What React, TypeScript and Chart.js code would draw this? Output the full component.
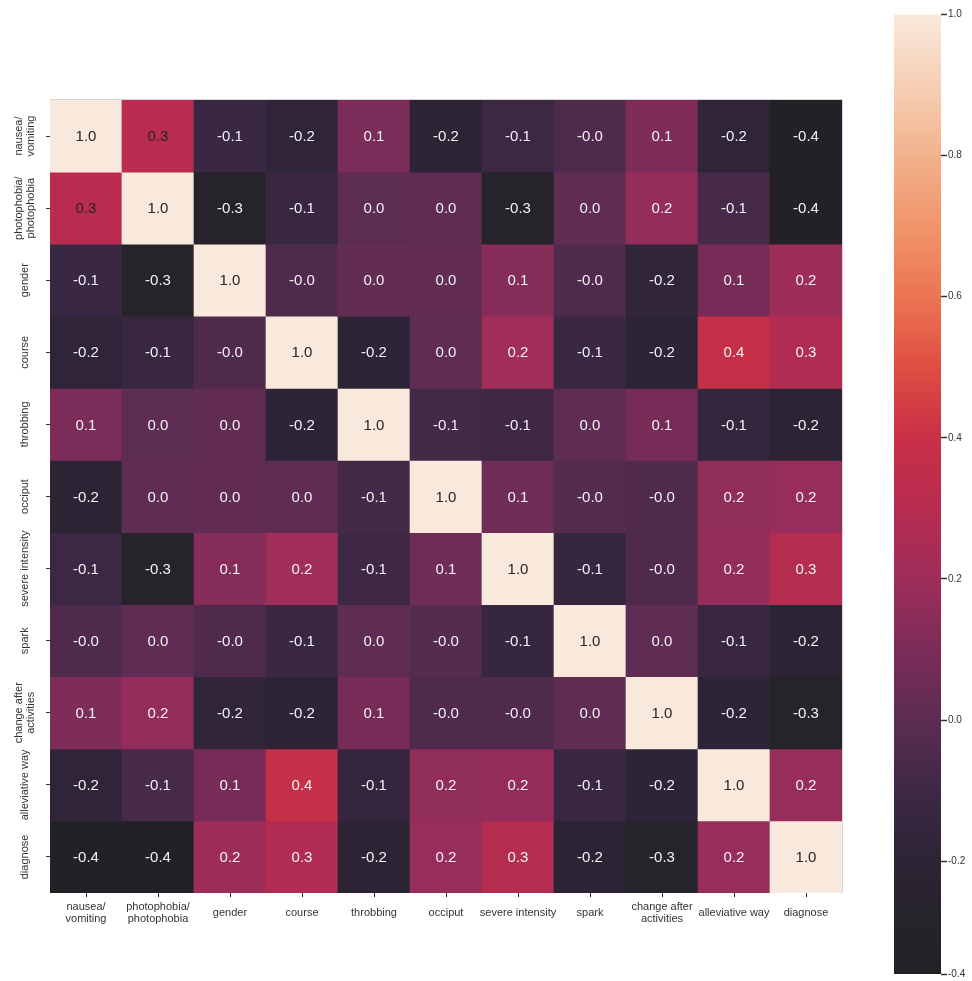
import React, { useEffect, useRef } from 'react';
import { Chart, registerables } from 'chart.js';
Chart.register(...registerables);

const categories: (string | string[])[] = [
  ['nausea/', 'vomiting'],
  ['photophobia/', 'photophobia'],
  'gender',
  'course',
  'throbbing',
  'occiput',
  'severe intensity',
  'spark',
  ['change after', 'activities'],
  'alleviative way',
  'diagnose',
];

const nauseaRow = [1.0, 0.31, -0.12, -0.18, 0.1, -0.2, -0.11, -0.04, 0.11, -0.18, -0.36];
const photophobiaRow = [0.31, 1.0, -0.29, -0.13, 0.0, 0.01, -0.28, 0.01, 0.17, -0.07, -0.36];
const genderRow = [-0.12, -0.29, 1.0, -0.04, 0.02, 0.02, 0.13, -0.04, -0.17, 0.08, 0.2];
const courseRow = [-0.18, -0.13, -0.04, 1.0, -0.19, 0.01, 0.21, -0.12, -0.19, 0.38, 0.27];
const throbbingRow = [0.1, 0.0, 0.02, -0.19, 1.0, -0.08, -0.1, 0.01, 0.08, -0.15, -0.2];
const occiputRow = [-0.2, 0.01, 0.02, 0.01, -0.08, 1.0, 0.06, -0.02, -0.04, 0.16, 0.18];
const severeRow = [-0.11, -0.28, 0.13, 0.21, -0.1, 0.06, 1.0, -0.14, -0.04, 0.17, 0.29];
const sparkRow = [-0.04, 0.01, -0.04, -0.12, 0.01, -0.02, -0.14, 1.0, 0.01, -0.13, -0.2];
const changeRow = [0.11, 0.17, -0.17, -0.19, 0.08, -0.04, -0.04, 0.01, 1.0, -0.19, -0.29];
const alleviativeRow = [-0.18, -0.07, 0.08, 0.38, -0.15, 0.16, 0.17, -0.13, -0.19, 1.0, 0.18];
const diagnoseRow = [-0.36, -0.36, 0.2, 0.27, -0.2, 0.18, 0.29, -0.2, -0.29, 0.18, 1.0];

const matrix = [
  nauseaRow, photophobiaRow, genderRow, courseRow, throbbingRow, occiputRow,
  severeRow, sparkRow, changeRow, alleviativeRow, diagnoseRow,
];

const vmin = -0.36;
const vmax = 1.0;
const colorbarTicks = [-0.36, -0.2, 0.0, 0.2, 0.4, 0.6, 0.8, 1.0];

// colour ramp (value -> rgb) sampled to resemble the reference's "rocket" map
const rampStops: [number, number[]][] = [
  [-0.36, [34, 34, 38]],
  [-0.3, [37, 35, 41]],
  [-0.2, [44, 36, 53]],
  [-0.1, [62, 40, 70]],
  [0.0, [92, 44, 82]],
  [0.1, [124, 44, 88]],
  [0.2, [158, 45, 90]],
  [0.3, [184, 44, 80]],
  [0.4, [200, 48, 70]],
  [0.5, [222, 78, 66]],
  [0.6, [236, 117, 83]],
  [0.7, [240, 148, 106]],
  [0.8, [242, 178, 140]],
  [0.9, [246, 207, 180]],
  [1.0, [249, 233, 220]],
];

function colorFor(v: number): string {
  const x = Math.max(vmin, Math.min(vmax, v));
  for (let i = 0; i < rampStops.length - 1; i++) {
    const [a, ca] = rampStops[i];
    const [b, cb] = rampStops[i + 1];
    if (x >= a && x <= b) {
      const t = (x - a) / (b - a);
      const c = ca.map((q, k) => Math.round(q + (cb[k] - q) * t));
      return `rgb(${c[0]},${c[1]},${c[2]})`;
    }
  }
  const c = rampStops[rampStops.length - 1][1];
  return `rgb(${c[0]},${c[1]},${c[2]})`;
}

function textColor(v: number): string {
  return v >= 0.9 || (v >= 0.3 && v < 0.35) ? '#262626' : '#f2f2f2';
}

const FONT = '"Liberation Sans", Arial, Helvetica, sans-serif';

const cellTextPlugin = {
  id: 'cellText',
  afterDatasetsDraw(chart: any) {
    const ctx = chart.ctx;
    ctx.save();
    ctx.font = `15px ${FONT}`;
    ctx.textAlign = 'center';
    ctx.textBaseline = 'middle';
    matrix.forEach((row, r) => {
      const meta = chart.getDatasetMeta(r);
      meta.data.forEach((el: any, c: number) => {
        const v = row[c];
        const p = el.getProps(['x', 'y', 'base'], true);
        ctx.fillStyle = textColor(v);
        ctx.fillText(v.toFixed(1), p.x, (p.y + p.base) / 2 + 1);
      });
    });
    ctx.restore();
  },
  afterDraw(chart: any) {
    const ctx = chart.ctx;
    const yScale = chart.scales.y;
    const area = chart.chartArea;
    ctx.save();
    // light frame on top and right
    ctx.strokeStyle = '#d4d4d4';
    ctx.lineWidth = 1;
    ctx.beginPath();
    ctx.moveTo(area.left, Math.round(area.top) - 0.5);
    ctx.lineTo(Math.round(area.right) + 0.5, Math.round(area.top) - 0.5);
    ctx.lineTo(Math.round(area.right) + 0.5, area.bottom);
    ctx.stroke();
    // rotated y labels
    ctx.font = `11px ${FONT}`;
    ctx.fillStyle = '#333333';
    ctx.textAlign = 'center';
    ctx.textBaseline = 'middle';
    categories.forEach((lab, i) => {
      const lines = Array.isArray(lab) ? lab : [lab];
      const y = yScale.getPixelForValue(i + 0.5);
      ctx.save();
      ctx.translate(25, y);
      ctx.rotate(-Math.PI / 2);
      lines.forEach((line, k) => {
        const off = (k - (lines.length - 1) / 2) * 12.5;
        ctx.fillText(line, 0, off);
      });
      ctx.restore();
    });
    ctx.restore();
  },
};

function Heatmap() {
  const ref = useRef<HTMLCanvasElement>(null);
  useEffect(() => {
    if (!ref.current) return;
    const datasets = matrix.map((row, r) => ({
      label: `row${r}`,
      data: categories.map(() => [r, r + 1]),
      backgroundColor: row.map(colorFor),
      borderWidth: 0,
      grouped: false,
      barPercentage: 1,
      categoryPercentage: 1,
    }));
    const chart = new Chart(ref.current, {
      type: 'bar',
      data: { labels: categories as any, datasets: datasets as any },
      options: {
        animation: false,
        responsive: false,
        devicePixelRatio: 1,
        layout: { padding: { top: 100, right: 38, bottom: 0, left: 0 } },
        plugins: { legend: { display: false }, tooltip: { enabled: false } },
        scales: {
          x: {
            type: 'category',
            offset: true,
            grid: { display: true, drawOnChartArea: false, offset: false, tickLength: 4, tickColor: '#333333', tickWidth: 1 },
            border: { display: false },
            ticks: {
              autoSkip: false,
              maxRotation: 0,
              minRotation: 0,
              crossAlign: 'center',
              padding: 10,
              color: '#333333',
              font: { family: FONT, size: 11, lineHeight: 1.1 },
            },
            afterFit: (s: any) => { s.height = 88; },
          },
          y: {
            type: 'linear',
            min: 0,
            max: 11,
            reverse: true,
            grid: { display: true, drawOnChartArea: false, tickLength: 4, tickColor: '#333333', tickWidth: 1 },
            border: { display: false },
            ticks: { display: false },
            afterBuildTicks: (s: any) => {
              s.ticks = categories.map((_, i) => ({ value: i + 0.5 }));
            },
            afterFit: (s: any) => { s.width = 50; },
          },
        },
      } as any,
      plugins: [cellTextPlugin],
    });
    return () => chart.destroy();
  }, []);
  return <canvas ref={ref} width={880} height={981} style={{ position: 'absolute', left: 0, top: 0, width: 880, height: 981 }} />;
}

function Colorbar() {
  const ref = useRef<HTMLCanvasElement>(null);
  useEffect(() => {
    if (!ref.current) return;
    const chart = new Chart(ref.current, {
      type: 'bar',
      data: {
        labels: [''],
        datasets: [{
          data: [[vmin, vmax]] as any,
          borderWidth: 0,
          barPercentage: 1,
          categoryPercentage: 1,
          backgroundColor: (ctx: any) => {
            const ch = ctx.chart;
            const area = ch.chartArea;
            if (!area) return colorFor(0.3);
            const ys = ch.scales.y;
            const g = ch.ctx.createLinearGradient(0, ys.getPixelForValue(vmin), 0, ys.getPixelForValue(vmax));
            rampStops.forEach(([v, c]) => {
              g.addColorStop((v - vmin) / (vmax - vmin), `rgb(${c[0]},${c[1]},${c[2]})`);
            });
            return g;
          },
        }],
      },
      options: {
        animation: false,
        responsive: false,
        devicePixelRatio: 1,
        layout: { padding: { top: 14.5, right: 0, bottom: 4, left: 14 } },
        plugins: { legend: { display: false }, tooltip: { enabled: false } },
        scales: {
          x: { display: false },
          y: {
            type: 'linear',
            position: 'right',
            min: vmin,
            max: vmax,
            grid: { display: true, drawOnChartArea: false, tickLength: 6, tickColor: '#333333', tickWidth: 1.5 },
            border: { display: false },
            ticks: {
              padding: 1,
              color: '#333333',
              font: { family: FONT, size: 10 },
              callback: (v: any) => Number(v).toFixed(1),
            },
            afterBuildTicks: (s: any) => {
              s.ticks = colorbarTicks.map((v) => ({ value: v }));
            },
            afterFit: (s: any) => { s.width = 31; },
          },
        },
      } as any,
    });
    return () => chart.destroy();
  }, []);
  return <canvas ref={ref} width={92} height={981} style={{ position: 'absolute', left: 880, top: 0, width: 92, height: 981 }} />;
}

export default function App() {
  return (
    <div style={{ position: 'absolute', left: 0, top: 0, width: 972, height: 981, background: '#ffffff' }}>
      <Heatmap />
      <Colorbar />
    </div>
  );
}
